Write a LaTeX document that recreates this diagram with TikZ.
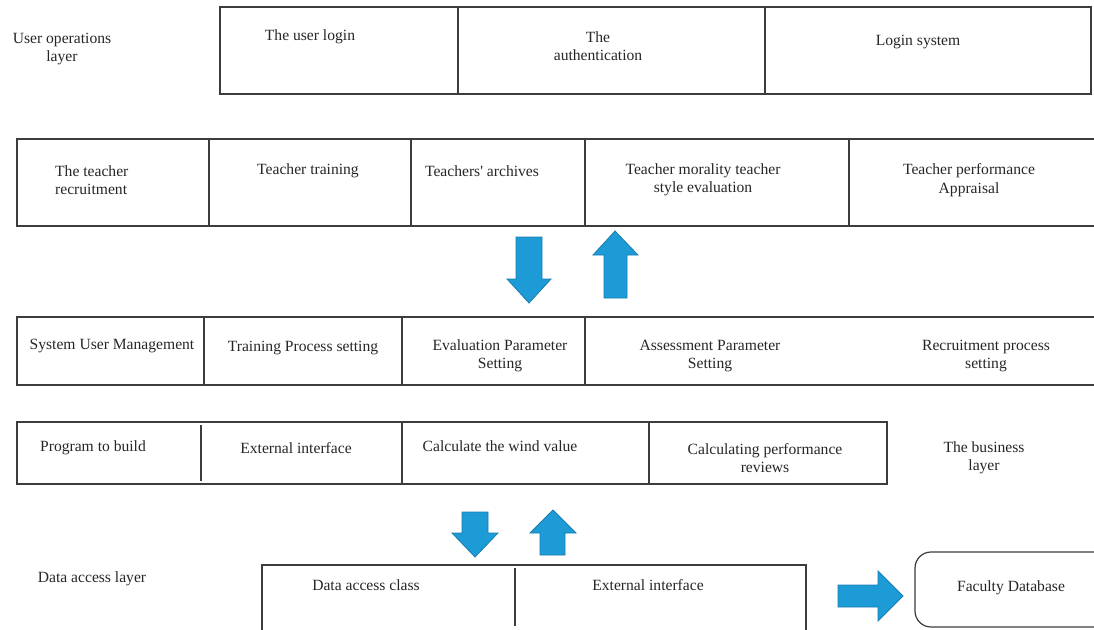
\documentclass[tikz,border=0pt]{standalone}
\usepackage{fontspec}
\setmainfont{Liberation Serif}
\begin{document}
\begin{tikzpicture}[x=1pt,y=-1pt,
  cell/.style={draw=lineclr,line width=1.2pt},
  txt/.style={inner sep=0pt,align=center,text=black!85,font=\fontsize{15.6}{18.5}\selectfont},
  flow/.style={fill=arrowblue,draw=arrowedge,line width=0.8pt,line join=miter}]
\definecolor{lineclr}{RGB}{60,60,60}
\definecolor{arrowblue}{RGB}{29,155,214}
\definecolor{arrowedge}{RGB}{25,125,175}
\useasboundingbox (0,0) rectangle (1094,629);
\clip (0,0) rectangle (1094,629);

% ---- user operations layer ----
\draw[cell] (220,7) rectangle (1091,94);
\draw[cell] (458,7) -- (458,94) (765,7) -- (765,94);
\node[txt] (uol) at (62,49) {User operations\\layer};
\node[txt] (login) at (310,37) {The user login};
\node[txt] (auth) at (598,46) {The\\authentication};
\node[txt] (logsys) at (918,42) {Login system};

% ---- teacher functions ----
\draw[cell] (17,139) rectangle (1110,226);
\draw[cell] (209,139) -- (209,226) (411,139) -- (411,226)
            (585,139) -- (585,226) (849,139) -- (849,226);
\node[txt,align=left,anchor=west] (recruit) at (55,180) {The teacher\\recruitment};
\node[txt] (training) at (308,171) {Teacher training};
\node[txt] (archives) at (482,171) {Teachers\textquotesingle{} archives};
\node[txt] (morality) at (703,180) {Teacher morality teacher\\style evaluation};
\node[txt] (perf) at (969,180) {Teacher performance\\Appraisal};

% ---- vertical flow arrows (upper) ----
\path[flow] (516,237) -- (542,237) -- (542,279) -- (551,279) -- (529,303)
            -- (507,279) -- (516,279) -- cycle;
\path[flow] (604,298) -- (627,298) -- (627,255) -- (638,255) -- (615,231)
            -- (593,255) -- (604,255) -- cycle;

% ---- settings row ----
\draw[cell] (17,317) rectangle (1110,385);
\draw[cell] (204,317) -- (204,385) (402,317) -- (402,385) (585,317) -- (585,385);
\node[txt] (usermgmt) at (112,346) {System User Management};
\node[txt] (trainset) at (303,348) {Training Process setting};
\node[txt] (evalset) at (500,356) {Evaluation Parameter\\Setting};
\node[txt] (assessset) at (710,356) {Assessment Parameter\\Setting};
\node[txt] (recset) at (986,356) {Recruitment process\\setting};

% ---- business layer ----
\draw[cell] (17,422) rectangle (887,484);
\draw[cell] (201,425) -- (201,481) (402,422) -- (402,484) (649,422) -- (649,484);
\node[txt] (build) at (93,448) {Program to build};
\node[txt] (extif1) at (296,448) {External interface};
\node[txt] (wind) at (500,446) {Calculate the wind value};
\node[txt] (reviews) at (765,458) {Calculating performance\\reviews};
\node[txt] (bizlayer) at (984,458) {The business\\layer};

% ---- vertical flow arrows (lower) ----
\path[flow] (462,512) -- (488,512) -- (488,533) -- (498,533) -- (475,557)
            -- (452,533) -- (462,533) -- cycle;
\path[flow] (540,555) -- (565,555) -- (565,533) -- (576,533) -- (553,510)
            -- (530,533) -- (540,533) -- cycle;

% ---- data access layer ----
\draw[cell] (262,565) rectangle (806,640);
\draw[cell] (515,568) -- (515,626);
\node[txt] (dal) at (92,579) {Data access layer};
\node[txt] (dac) at (366,585) {Data access class};
\node[txt] (extif2) at (648,585) {External interface};

% ---- horizontal flow arrow and database ----
\path[flow] (838,585) -- (878,585) -- (878,571) -- (903,596) -- (878,621)
            -- (878,607) -- (838,607) -- cycle;
\draw[cell,rounded corners=16pt] (915,552) rectangle (1130,627);
\node[txt] (db) at (1011,588) {Faculty Database};
\end{tikzpicture}
\end{document}
